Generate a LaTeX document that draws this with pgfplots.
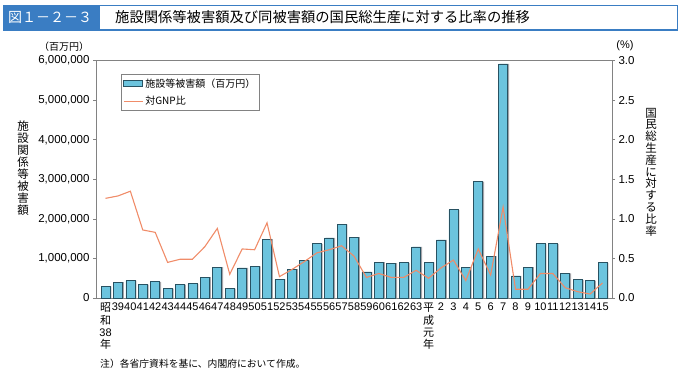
\documentclass[border=0pt]{standalone}
\usepackage{pgfplots}
\pgfplotsset{compat=1.18}
\usepackage{pgfplotstable}
\usepackage{fontspec}
\setmainfont{Liberation Sans}
\newfontfamily\jp{Noto Sans CJK JP}
\definecolor{barfill}{RGB}{108,196,222}
\definecolor{bardraw}{RGB}{40,82,98}
\definecolor{shadow}{RGB}{165,165,170}
\definecolor{linecol}{RGB}{240,140,105}
\definecolor{titleblue}{RGB}{58,125,195}
\definecolor{axisgray}{RGB}{130,130,130}
\pgfplotsset{
  boxleg/.style={legend image code/.code={\draw[##1] (0pt,-3pt) rectangle (19pt,3pt);}},
  lineleg/.style={legend image code/.code={\draw[##1] (0pt,0pt) -- (19pt,0pt);}},
}

\pgfplotstableread{
idx val ratio
0 295000 1.26
1 400000 1.29
2 440000 1.35
3 340000 0.86
4 410000 0.83
5 240000 0.45
6 340000 0.49
7 360000 0.49
8 530000 0.65
9 780000 0.88
10 240000 0.30
11 760000 0.62
12 800000 0.61
13 1490000 0.95
14 480000 0.27
15 730000 0.36
16 950000 0.46
17 1370000 0.57
18 1520000 0.61
19 1860000 0.66
20 1540000 0.53
21 660000 0.26
22 910000 0.31
23 880000 0.26
24 890000 0.26
25 1290000 0.35
26 900000 0.25
27 1470000 0.38
28 2230000 0.48
29 780000 0.22
30 2940000 0.62
31 1060000 0.29
32 5920000 1.15
33 560000 0.11
34 780000 0.11
35 1370000 0.31
36 1370000 0.31
37 620000 0.13
38 460000 0.08
39 440000 0.05
40 890000 0.19
}\datatable

\begin{document}
\begin{tikzpicture}
\useasboundingbox (0pt,0pt) rectangle (680pt,378pt);
% title band
\fill[titleblue] (3pt,347pt) rectangle (100pt,373pt);
\draw[titleblue, line width=0.9pt] (100pt,372.5pt) -- (677.5pt,372.5pt) -- (677.5pt,348pt);
\draw[titleblue, line width=2pt] (100pt,348pt) -- (678pt,348pt);
\node[anchor=west, text=white, inner sep=0pt, font=\jp\fontsize{14}{16}\selectfont] at (8pt,360.5pt) {図１－２－３};
\node[anchor=west, inner sep=0pt, font=\jp\fontsize{14.3}{16}\selectfont] at (115pt,360.5pt) {施設関係等被害額及び同被害額の国民総生産に対する比率の推移};

\begin{axis}[
  at={(96pt,80pt)}, anchor=south west, scale only axis,
  width=516pt, height=237.3pt,
  xmin=-0.765, xmax=40.765, ymin=0, ymax=6000000,
  xtick=data,
  xticklabels={{{\jp 昭}\\{\jp 和}\\38\\{\jp 年}},39,40,41,42,43,44,45,46,47,48,49,50,51,52,53,54,55,56,57,58,59,60,61,62,63,{{\jp 平}\\{\jp 成}\\{\jp 元}\\{\jp 年}},2,3,4,5,6,7,8,9,10,11,12,13,14,15},
  xticklabel style={font=\fontsize{11}{12.3}\selectfont, align=center, inner sep=2pt},
  major x tick style={draw=none},
  ytick={0,1000000,2000000,3000000,4000000,5000000,6000000},
  ytick pos=left,
  scaled y ticks=false,
  yticklabel style={font=\fontsize{11.5}{13}\selectfont, /pgf/number format/.cd, fixed, 1000 sep={,}, assume math mode=true},
  tick align=outside, major tick length=3pt,
  axis line style={draw=axisgray, line width=0.8pt},
  major tick style={draw=axisgray, line width=0.8pt},
]
\addplot[ybar, bar width=9pt, bar shift=1.4pt, fill=shadow, draw=none] table[x=idx, y=val] {\datatable};
\addplot[ybar, bar width=9pt, fill=barfill, draw=bardraw, line width=0.7pt] table[x=idx, y=val] {\datatable};
\end{axis}

\begin{axis}[
  at={(96pt,80pt)}, anchor=south west, scale only axis,
  width=516pt, height=237.3pt,
  xmin=-0.765, xmax=40.765, ymin=0, ymax=3,
  axis x line=none, axis y line*=right,
  ytick={0,0.5,1,1.5,2,2.5,3},
  yticklabel style={font=\fontsize{11.5}{13}\selectfont, /pgf/number format/.cd, fixed, fixed zerofill, precision=1, assume math mode=true},
  tick align=outside, major tick length=3pt,
  axis line style={draw=axisgray, line width=0.8pt, -},
  major tick style={draw=axisgray, line width=0.8pt},
  legend style={at={(0.0485,0.944)}, anchor=north west, draw=axisgray, font=\jp\fontsize{10}{12}\selectfont, inner xsep=2pt, inner ysep=2.5pt, row sep=3.5pt, cells={anchor=west}},
]
\addlegendimage{boxleg, fill=barfill, draw=bardraw, line width=0.7pt}
\addlegendentry{施設等被害額（百万円）}
\addplot[linecol, line width=1.1pt, mark=none, lineleg] table[x=idx, y=ratio] {\datatable};
\addlegendentry{対GNP比}
\end{axis}

% axis labels and notes
\node[font=\jp\fontsize{11.5}{12.1}\selectfont, align=center, inner sep=0pt] at (23pt,210pt) {施\\設\\関\\係\\等\\被\\害\\額};
\node[font=\jp\fontsize{11.5}{11.8}\selectfont, align=center, inner sep=0pt] at (651pt,206pt) {国\\民\\総\\生\\産\\に\\対\\す\\る\\比\\率};
\node[font=\jp\fontsize{10}{12}\selectfont, inner sep=0pt] at (64pt,331pt) {（百万円）};
\node[font=\fontsize{11}{12}\selectfont, inner sep=0pt] at (625pt,332pt) {(\%)};
\node[anchor=west, font=\jp\fontsize{9.8}{11}\selectfont, inner sep=0pt] at (100pt,14pt) {注）各省庁資料を基に、内閣府において作成。};
\end{tikzpicture}
\end{document}
